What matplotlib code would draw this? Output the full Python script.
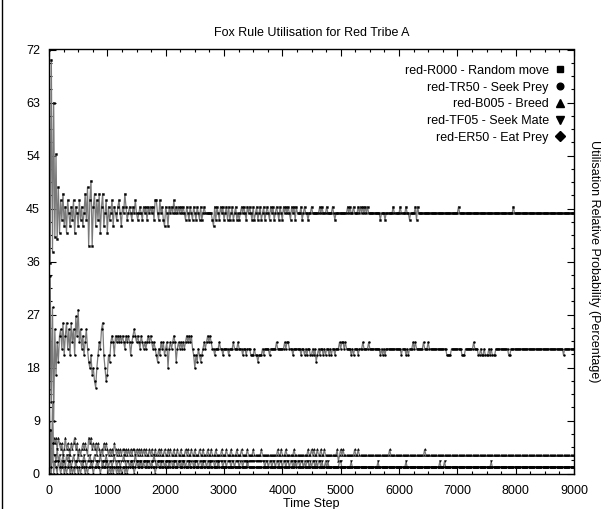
import numpy as np
import matplotlib
matplotlib.use("Agg")
import matplotlib.pyplot as plt
from matplotlib.lines import Line2D
from matplotlib.ticker import MultipleLocator

plt.rcParams['font.family'] = ['Liberation Sans', 'DejaVu Sans']

# ---------------- data ----------------
sample_interval = 20          # time steps between samples
x_ticks = [0, 1000, 2000, 3000, 4000, 5000, 6000, 7000, 8000, 9000]
y_ticks = [0, 9, 18, 27, 36, 45, 54, 63, 72]

labels = ["red-R000 - Random move", "red-TR50 - Seek Prey", "red-B005 - Breed",
          "red-TF05 - Seek Mate", "red-ER50 - Eat Prey"]

# Random move: early samples, then (value, run-length) pairs
rm_early = [
    72.0, 35.8, 70.3, 37.6, 63.0, 40.2, 54.2, 39.8, 48.6, 40.9,
    46.4, 43.1, 47.5, 42.0, 45.3, 40.9, 46.4, 44.2, 42.0, 45.3,
    43.1, 46.4, 40.9, 45.3, 44.2, 42.0, 46.4, 43.1, 45.3, 42.0,
    44.2, 47.5, 43.1, 48.6, 38.7, 46.4, 49.7, 38.7, 45.3, 47.5,
    42.0, 46.4, 43.1, 47.5, 40.9, 45.3, 47.5, 42.0, 44.2, 46.4,
    40.9, 45.3, 43.1, 44.2, 46.4, 42.0, 45.3, 44.2, 43.1, 45.3,
    46.4, 44.2, 42.0, 45.3, 44.2, 47.5, 45.3, 43.1, 44.2, 45.3,
    44.2, 43.1, 45.3, 44.2, 46.4, 44.2, 43.1, 44.2, 45.3, 44.2,
    43.1, 45.3, 44.2, 45.3, 43.1, 45.3, 44.2, 45.3, 44.2, 45.3,
    43.1, 46.4, 46.4, 44.2, 43.1, 46.4, 44.2, 45.3, 43.1, 42.0,
    45.3, 44.2, 42.0, 45.3, 44.2, 45.3, 44.2, 46.4, 44.2, 45.3,
    44.2, 45.3, 44.2, 45.3, 44.2, 45.3, 44.2, 43.1, 45.3, 44.2,
    43.1, 45.3, 44.2, 43.1, 45.3, 44.2, 43.1, 45.3, 44.2, 43.1,
    45.3, 43.1, 44.2, 45.3, 44.2, 44.2, 44.2, 44.2, 44.2, 44.2,
    43.1, 42.0, 45.3, 43.1, 45.3, 44.2, 43.1, 45.3, 44.2, 45.3,
    43.1, 44.2, 45.3, 43.1, 45.3, 43.1, 44.2, 45.3, 43.1, 44.2,
    45.3, 43.1, 44.2, 43.1, 44.2, 45.3, 44.2, 45.3, 44.2, 43.1,
    45.3, 44.2, 45.3, 44.2, 43.1, 45.3, 43.1, 44.2, 45.3, 43.1,
    44.2, 45.3, 43.1, 44.2, 45.3, 43.1, 44.2, 45.3, 44.2, 43.1,
    45.3, 44.2, 45.3, 43.1, 44.2, 45.3, 44.2, 43.1, 45.3, 44.2,
    43.1, 45.3, 44.2, 45.3, 44.2, 45.3, 44.2, 43.1, 45.3, 44.2,
    45.3, 43.1, 45.3, 44.2, 44.2,
]
rm_late = [
    (44.2, 1), (45.3, 1), (43.1, 1), (44.2, 1), (45.3, 1), (44.2, 2), (43.1, 1), (44.2, 2), (45.3, 1), (44.2, 6),
    (45.3, 1), (44.2, 1), (45.3, 1), (44.2, 3), (45.3, 1), (44.2, 4), (45.3, 1), (44.2, 1), (43.1, 1), (44.2, 10),
    (45.3, 1), (44.2, 1), (45.3, 1), (44.2, 2), (45.3, 1), (44.2, 3), (45.3, 1), (44.2, 1), (45.3, 1), (44.2, 1),
    (45.3, 1), (44.2, 1), (45.3, 1), (44.2, 1), (45.3, 1), (44.2, 10), (43.1, 1), (44.2, 3), (43.1, 1), (44.2, 6),
    (45.3, 1), (44.2, 5), (45.3, 1), (44.2, 4), (45.3, 1), (44.2, 2), (43.1, 1), (44.2, 4), (45.3, 1), (43.1, 1),
    (45.3, 1), (44.2, 34), (45.3, 1), (44.2, 46), (45.3, 1), (44.2, 52),
]

# Seek Prey
sp_early = [
    0.0, 33.5, 12.1, 28.2, 9.0, 24.5, 16.8, 22.3, 19.0, 23.4,
    24.5, 21.2, 25.6, 20.1, 23.4, 25.6, 21.2, 24.5, 20.1, 25.6,
    22.3, 24.5, 20.1, 26.7, 23.4, 27.8, 22.3, 24.5, 21.2, 23.4,
    20.1, 22.3, 24.5, 21.2, 19.0, 17.9, 20.1, 16.8, 17.9, 15.7,
    14.6, 17.9, 20.1, 22.3, 21.2, 24.5, 25.6, 20.1, 17.9, 15.7,
    16.8, 20.1, 19.0, 22.3, 23.4, 22.3, 20.1, 23.4, 22.3, 23.4,
    22.3, 23.4, 22.3, 23.4, 22.3, 21.2, 23.4, 22.3, 23.4, 22.3,
    20.1, 22.3, 23.4, 24.5, 23.4, 22.3, 23.4, 22.3, 21.2, 23.4,
    22.3, 21.2, 22.3, 21.2, 22.3, 23.4, 22.3, 23.4, 22.3, 21.2,
    22.3, 21.2, 20.1, 19.0, 21.2, 20.1, 22.3, 21.2, 22.3, 20.1,
    21.2, 22.3, 17.9, 21.2, 22.3, 21.2, 22.3, 23.4, 22.3, 19.0,
    21.2, 22.3, 21.2, 22.3, 21.2, 22.3, 21.2, 22.3, 23.4, 22.3,
    23.4, 22.3, 23.4, 21.2, 20.1, 17.9, 20.1, 19.0, 21.2, 20.1,
    19.0, 20.1, 21.2, 22.3, 21.2, 22.3, 23.4, 22.3, 23.4, 22.3,
    21.2, 21.2, 20.1, 21.2, 21.2, 21.2, 22.3, 21.2, 21.2, 20.1,
    21.2, 21.2, 21.2, 21.2, 20.1, 21.2, 21.2, 21.2, 22.3, 21.2,
    21.2, 21.2, 22.3, 21.2, 21.2, 21.2, 20.1, 21.2, 21.2, 20.1,
    21.2, 21.2, 21.2, 20.1, 20.1, 20.1, 21.2, 20.1, 20.1, 19.0,
    20.1, 20.1, 20.1, 21.2, 20.1, 21.2, 21.2, 21.2, 21.2, 20.1,
    21.2, 21.2, 21.2, 21.2, 21.2, 22.3, 21.2, 21.2, 21.2, 21.2,
    21.2, 21.2, 22.3, 21.2, 22.3, 22.3, 21.2, 21.2, 21.2, 20.1,
    21.2, 21.2, 21.2, 21.2, 21.2,
]
sp_late = [
    (21.2, 1), (20.1, 1), (21.2, 2), (20.1, 1), (21.2, 1), (20.1, 1), (21.2, 2), (20.1, 2), (21.2, 1), (20.1, 1),
    (21.2, 1), (19.0, 1), (20.1, 1), (21.2, 1), (20.1, 1), (21.2, 2), (20.1, 1), (21.2, 1), (20.1, 1), (21.2, 2),
    (20.1, 1), (21.2, 1), (20.1, 1), (21.2, 2), (20.1, 1), (21.2, 3), (22.3, 1), (21.2, 1), (22.3, 2), (21.2, 1),
    (22.3, 1), (21.2, 4), (20.1, 1), (21.2, 1), (20.1, 1), (21.2, 3), (20.1, 1), (21.2, 3), (22.3, 1), (21.2, 4),
    (22.3, 1), (21.2, 9), (20.1, 1), (21.2, 1), (20.1, 1), (21.2, 1), (20.1, 1), (21.2, 13), (20.1, 1), (21.2, 3),
    (20.1, 1), (21.2, 1), (20.1, 1), (21.2, 3), (22.3, 1), (21.2, 1), (22.3, 1), (21.2, 6), (22.3, 1), (21.2, 3),
    (22.3, 1), (21.2, 15), (20.1, 4), (21.2, 9), (20.1, 3), (21.2, 7), (22.3, 1), (21.2, 3), (20.1, 2), (21.2, 1),
    (20.1, 2), (21.2, 1), (20.1, 3), (21.2, 1), (20.1, 1), (21.2, 1), (20.1, 3), (21.2, 11), (20.1, 2), (21.2, 45),
    (20.1, 1), (21.2, 9),
]

# Breed
br_early = [
    9.0, 0.0, 7.4, 2.05, 6.1, 5.1, 6.1, 4.1, 6.1, 5.1,
    4.1, 5.1, 3.1, 4.1, 6.1, 4.1, 5.1, 4.1, 3.1, 5.1,
    4.1, 5.1, 6.1, 4.1, 5.1, 3.1, 4.1, 3.1, 4.1, 5.1,
    4.1, 5.1, 4.1, 3.1, 6.1, 5.1, 6.1, 4.1, 5.1, 4.1,
    5.1, 3.1, 5.1, 4.1, 3.1, 4.1, 3.1, 5.1, 4.1, 5.1,
    4.1, 3.1, 4.1, 3.1, 4.1, 3.1, 5.1, 4.1, 3.1, 4.1,
    3.1, 4.1, 3.1, 4.1, 4.1, 3.1, 4.1, 3.1, 4.1, 3.1,
    4.1, 3.1, 4.1, 4.1, 3.1, 4.1, 3.1, 4.1, 3.1, 4.1,
    3.1, 4.1, 3.1, 4.1, 3.1, 3.1, 4.1, 3.1, 4.1, 3.1,
    3.1, 4.1, 3.1, 3.1, 4.1, 3.1, 4.1, 3.1, 3.1, 4.1,
    3.1, 3.1, 4.1, 3.1, 4.1, 3.1, 3.1, 4.1, 3.1, 3.1,
    4.1, 3.1, 3.1, 4.1, 3.1, 3.1, 3.1, 4.1, 3.1, 4.1,
    3.1, 3.1, 4.1, 3.1, 3.1, 4.1, 3.1, 3.1, 3.1, 4.1,
    3.1, 3.1, 4.1, 3.1, 3.1, 3.1, 4.1, 3.1, 3.1, 4.1,
    3.1, 3.1, 3.1, 4.1, 3.1, 3.1, 3.1, 3.1, 4.1, 3.1,
    3.1, 3.1, 4.1, 3.1, 3.1, 3.1, 4.1, 3.1, 3.1, 3.1,
    3.1, 4.1, 3.1, 3.1, 3.1, 4.1, 3.1, 3.1, 3.1, 3.1,
    4.1, 3.1, 3.1, 3.1, 3.1, 4.1, 3.1, 3.1, 3.1, 3.1,
    3.1, 3.1, 4.1, 3.1, 3.1, 3.1, 3.1, 3.1, 3.1, 3.1,
    3.1, 3.1, 3.1, 3.1, 3.1, 3.1, 4.1, 3.1, 3.1, 4.1,
    3.1, 3.1, 3.1, 4.1, 3.1, 3.1, 3.1, 3.1, 3.1, 3.1,
    4.1, 3.1, 3.1, 3.1, 3.1,
]
br_late = [
    (3.1, 7), (4.1, 1), (3.1, 2), (4.1, 1), (3.1, 1), (4.1, 1), (3.1, 2), (4.1, 1), (3.1, 2), (4.1, 1),
    (3.1, 2), (4.1, 1), (3.1, 10), (4.1, 1), (2.05, 1), (3.1, 1), (4.1, 1), (3.1, 1), (4.1, 1), (3.1, 9),
    (4.1, 1), (3.1, 2), (4.1, 1), (3.1, 26), (4.1, 1), (3.1, 29), (4.1, 1), (3.1, 128),
]

# Seek Mate
sm_early = [
    14.1, 4.1, 0.0, 12.1, 3.1, 3.1, 2.05, 4.1, 2.05, 3.1,
    1.05, 2.05, 3.1, 2.05, 1.05, 3.1, 2.05, 3.1, 2.05, 1.05,
    2.05, 3.1, 2.05, 1.05, 2.05, 3.1, 2.05, 2.05, 1.05, 2.05,
    3.1, 2.05, 1.05, 2.05, 2.05, 3.1, 2.05, 1.05, 2.05, 3.1,
    2.05, 2.05, 1.05, 2.05, 3.1, 2.05, 1.05, 2.05, 2.05, 3.1,
    2.05, 1.05, 2.05, 2.05, 1.05, 2.05, 3.1, 2.05, 1.05, 2.05,
    2.05, 1.05, 2.05, 2.05, 3.1, 2.05, 1.05, 2.05, 2.05, 1.05,
    2.05, 2.05, 1.05, 2.05, 3.1, 2.05, 2.05, 1.05, 2.05, 2.05,
    1.05, 2.05, 2.05, 2.05, 1.05, 2.05, 2.05, 1.05, 2.05, 2.05,
    3.1, 2.05, 1.05, 2.05, 2.05, 2.05, 1.05, 2.05, 2.05, 1.05,
    2.05, 2.05, 2.05, 1.05, 2.05, 2.05, 1.05, 2.05, 2.05, 2.05,
    1.05, 2.05, 2.05, 1.05, 2.05, 2.05, 2.05, 1.05, 2.05, 2.05,
    2.05, 1.05, 2.05, 2.05, 1.05, 2.05, 2.05, 2.05, 1.05, 2.05,
    2.05, 1.05, 2.05, 2.05, 2.05, 1.05, 2.05, 2.05, 1.05, 2.05,
    2.05, 2.05, 1.05, 2.05, 2.05, 1.05, 2.05, 2.05, 2.05, 1.05,
    2.05, 2.05, 1.05, 2.05, 2.05, 2.05, 1.05, 2.05, 2.05, 1.05,
    2.05, 2.05, 2.05, 1.05, 2.05, 2.05, 1.05, 2.05, 2.05, 2.05,
    1.05, 2.05, 2.05, 2.05, 2.05, 2.05, 2.05, 2.05, 2.05, 2.05,
    2.05, 2.05, 2.05, 2.05, 2.05, 1.05, 2.05, 2.05, 1.05, 2.05,
    2.05, 1.05, 2.05, 2.05, 1.05, 2.05, 2.05, 1.05, 2.05, 2.05,
    1.05, 2.05, 2.05, 1.05, 2.05, 2.05, 1.05, 2.05, 2.05, 1.05,
    2.05, 2.05, 1.05, 2.05, 2.05,
]
sm_late = [
    (1.05, 1), (2.05, 2), (1.05, 1), (2.05, 1), (1.05, 1), (2.05, 2), (1.05, 1), (2.05, 1), (1.05, 1), (2.05, 2),
    (1.05, 1), (2.05, 1), (1.05, 1), (2.05, 2), (1.05, 1), (2.05, 1), (1.05, 2), (2.05, 1), (1.05, 1), (2.05, 1),
    (1.05, 9), (2.05, 2), (1.05, 8), (2.05, 1), (1.05, 22), (2.05, 1), (1.05, 23), (2.05, 1), (1.05, 28), (2.05, 1),
    (1.05, 3), (2.05, 1), (1.05, 39), (2.05, 1), (1.05, 71),
]

# Eat Prey
ep_early = [
    0.0, 7.4, 1.05, 5.1, 0.0, 2.05, 1.05, 0.0, 2.05, 1.05,
    0.0, 1.05, 2.05, 0.0, 1.05, 0.0, 1.05, 2.05, 0.0, 1.05,
    0.0, 1.05, 0.0, 2.05, 1.05, 0.0, 1.05, 0.0, 1.05, 2.05,
    1.05, 0.0, 1.05, 0.0, 1.05, 1.05, 2.05, 1.05, 0.0, 1.05,
    1.05, 2.05, 1.05, 1.05, 0.0, 1.05, 2.05, 1.05, 1.05, 2.05,
    1.05, 0.0, 1.05, 0.0, 1.05, 0.0, 1.05, 1.05, 0.0, 1.05,
    0.0, 1.05, 0.0, 1.05, 1.05, 0.0, 1.05, 0.0, 1.05, 1.05,
    2.05, 1.05, 1.05, 0.0, 1.05, 2.05, 1.05, 1.05, 2.05, 1.05,
    1.05, 2.05, 1.05, 1.05, 2.05, 1.05, 1.05, 1.05, 2.05, 1.05,
    1.05, 0.0, 1.05, 2.05, 1.05, 1.05, 2.05, 1.05, 1.05, 1.05,
    2.05, 1.05, 1.05, 2.05, 1.05, 1.05, 1.05, 2.05, 1.05, 1.05,
    1.05, 2.05, 1.05, 1.05, 1.05, 2.05, 1.05, 1.05, 1.05, 1.05,
    2.05, 1.05, 1.05, 1.05, 1.05, 2.05, 1.05, 1.05, 1.05, 1.05,
    1.05, 1.05, 2.05, 1.05, 1.05, 1.05, 1.05, 1.05, 2.05, 1.05,
    1.05, 1.05, 1.05, 1.05, 1.05, 2.05, 1.05, 1.05, 1.05, 1.05,
]
ep_late = [(1.05, 20), (2.05, 1), (1.05, 40), (2.05, 1), (1.05, 239)]

markers = ['s', 'o', '^', 'v', 'D']


def decode(early, late):
    vals = list(early)
    for v, n in late:
        vals.extend([v] * n)
    return np.array(vals, dtype=float)


series = [decode(rm_early, rm_late), decode(sp_early, sp_late), decode(br_early, br_late),
          decode(sm_early, sm_late), decode(ep_early, ep_late)]

# ---------------- figure ----------------
W, H = 609, 509
fig = plt.figure(figsize=(W / 100, H / 100), dpi=100)
L, R, T, B = 49, 574, 49.5, 473.5
ax = fig.add_axes([L / W, (H - B) / H, (R - L) / W, (B - T) / H])

for vals, m in zip(series, markers):
    t = np.arange(len(vals)) * sample_interval
    ax.plot(t, vals, color='#7a7a7a', lw=0.9, marker=m, ms=1.4,
            mfc='black', mec='black', mew=0.3, zorder=2)

ax.set_xlim(0, 9000)
ax.set_ylim(0, 72)
ax.set_xticks(x_ticks)
ax.set_yticks(y_ticks)
ax.xaxis.set_minor_locator(MultipleLocator(250))
ax.yaxis.set_minor_locator(MultipleLocator(2.25))
ax.tick_params(which='both', direction='in', top=True, right=True, colors='black',
               labelsize=9)
ax.tick_params(which='major', length=4.7, width=0.8)
ax.tick_params(which='minor', length=2.4, width=0.8)
ax.tick_params(axis='x', pad=8)
ax.tick_params(axis='y', pad=6.5)
for s in ax.spines.values():
    s.set_linewidth(1.0)
    s.set_color('black')

ax.set_title("Fox Rule Utilisation for Red Tribe A", fontsize=9, pad=10)
ax.set_xlabel("Time Step", fontsize=9, labelpad=1)
ax.yaxis.set_label_position('right')
ax.set_ylabel("Utilisation Relative Probability (Percentage)", fontsize=9,
              rotation=-90, va='bottom', labelpad=10)

handles = [Line2D([], [], ls='none', marker=m, color='black', mfc='black', mec='black',
                  ms=ms) for m, ms in zip(markers, [4.2, 4.8, 5.2, 5.2, 5.6])]
ax.legend(handles, labels, loc='upper right', bbox_to_anchor=(0.983, 0.964),
          markerfirst=False, frameon=False, fontsize=9, handlelength=0.8,
          handletextpad=0.5, borderpad=0, borderaxespad=0, labelspacing=0.38)

fig.add_artist(Line2D([1.5 / W, 1.5 / W], [0, 1], color='black', lw=1.0,
                      transform=fig.transFigure))

fig.savefig("out.png", dpi=100)
